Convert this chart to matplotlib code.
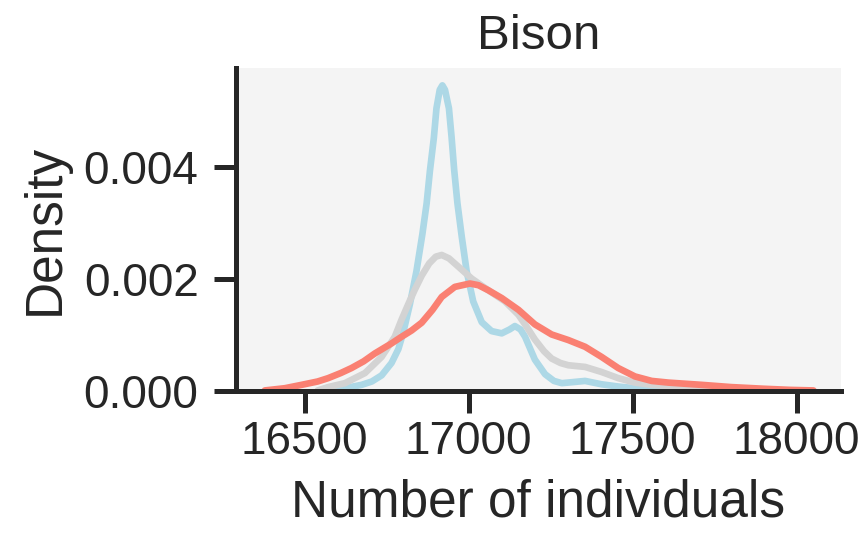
import matplotlib
matplotlib.use("Agg")
import matplotlib.pyplot as plt

# Values (x = number of individuals, y = density)
blue_x = [16560, 16622, 16674, 16705, 16735, 16765, 16786, 16801, 16821, 16841, 16859,
          16872, 16882, 16894, 16902, 16912, 16920, 16928, 16940, 16948, 16956,
          16966, 16979, 16994, 17014, 17040, 17070, 17101, 17125, 17141, 17158,
          17172, 17188, 17202, 17233, 17260, 17284, 17320, 17355, 17405, 17456,
          17506, 17560, 17620]
blue_y = [0.00001, 0.00005, 0.00011, 0.00017, 0.00028, 0.00050, 0.00075, 0.00105, 0.00155, 0.00214, 0.00280,
          0.00335, 0.00393, 0.00452, 0.00505, 0.00538, 0.00546, 0.00538, 0.00505, 0.00454, 0.00395,
          0.00335, 0.00276, 0.00214, 0.00160, 0.00123, 0.00107, 0.00103, 0.00110, 0.00116, 0.00110,
          0.00097, 0.00075, 0.00056, 0.00030, 0.00018, 0.00014, 0.00016, 0.00018, 0.00012, 0.00008,
          0.00005, 0.00002, 0.00001]

grey_x = [16540, 16572, 16623, 16684, 16735, 16775, 16796, 16816, 16836, 16857,
          16880, 16900, 16918, 16940, 16969, 17009, 17060, 17111, 17152, 17180,
          17202, 17230, 17253, 17280, 17304, 17355, 17405, 17456, 17507, 17558,
          17610, 17659, 17720, 17800, 17870]
grey_y = [0.00001, 0.00007, 0.00014, 0.00032, 0.00061, 0.00097, 0.00128, 0.00155, 0.00181, 0.00206,
          0.00228, 0.00240, 0.00243, 0.00237, 0.00222, 0.00201, 0.00180, 0.00160, 0.00136, 0.00112,
          0.00092, 0.00071, 0.00058, 0.00050, 0.00046, 0.00043, 0.00034, 0.00023, 0.00015, 0.00011,
          0.00009, 0.00007, 0.00004, 0.00002, 0.00001]

red_x = [16379, 16440, 16491, 16540, 16572, 16610, 16643, 16680, 16714, 16765,
         16796, 16826, 16857, 16890, 16918, 16958, 17004, 17030, 17060, 17101,
         17152, 17202, 17253, 17304, 17355, 17405, 17456, 17507, 17558, 17609,
         17710, 17800, 17900, 17980, 18051]
red_y = [0.00001, 0.00005, 0.00011, 0.00017, 0.00023, 0.00032, 0.00041, 0.00053, 0.00067, 0.00085,
         0.00097, 0.00108, 0.00122, 0.00145, 0.00168, 0.00186, 0.00192, 0.00189, 0.00180, 0.00166,
         0.00145, 0.00119, 0.00101, 0.00091, 0.00079, 0.00061, 0.00041, 0.00026, 0.00018, 0.00015,
         0.00011, 0.00007, 0.00004, 0.00002, 0.00001]

x_ticks = [16500, 17000, 17500, 18000]
y_ticks = [0.000, 0.002, 0.004]
title = "Bison"
x_label = "Number of individuals"
y_label = "Density"

plt.rcParams['font.family'] = ['Liberation Sans', 'DejaVu Sans']
text_color = "#262626"

fig = plt.figure(figsize=(8.64, 5.33), dpi=100)
ax = fig.add_axes([236 / 864, 1 - 391 / 533, (841 - 236) / 864, (391 - 68) / 533])
ax.set_facecolor("#f4f4f4")

lw = 4.8
common = dict(lw=lw, solid_capstyle="round", solid_joinstyle="round")
ax.plot(grey_x, grey_y, color="lightgrey", zorder=2, **common)
ax.plot(red_x, red_y, color="salmon", zorder=3, **common)
ax.plot(blue_x, blue_y, color="lightblue", zorder=1, **common)

ax.set_xlim(16291, 18135)
ax.set_ylim(0, 0.00577)
ax.set_xticks(x_ticks)
ax.set_xticklabels([str(v) for v in x_ticks])
ax.set_yticks(y_ticks)
ax.set_yticklabels([f"{v:.3f}" for v in y_ticks])

for s in ["top", "right"]:
    ax.spines[s].set_visible(False)
for s in ["left", "bottom"]:
    ax.spines[s].set_linewidth(3.6)
    ax.spines[s].set_color(text_color)
    ax.spines[s].set_zorder(5)

ax.tick_params(axis="both", length=16, width=3.6, color=text_color,
               labelsize=33, labelcolor=text_color)
ax.tick_params(axis="y", pad=11)
ax.tick_params(axis="x", pad=5)

ax.set_title(title, fontsize=35.5, color=text_color, pad=14)
ax.set_xlabel(x_label, fontsize=37, color=text_color, labelpad=10)
ax.set_ylabel(y_label, fontsize=37, color=text_color, labelpad=10)

fig.savefig("out.png", dpi=100)
